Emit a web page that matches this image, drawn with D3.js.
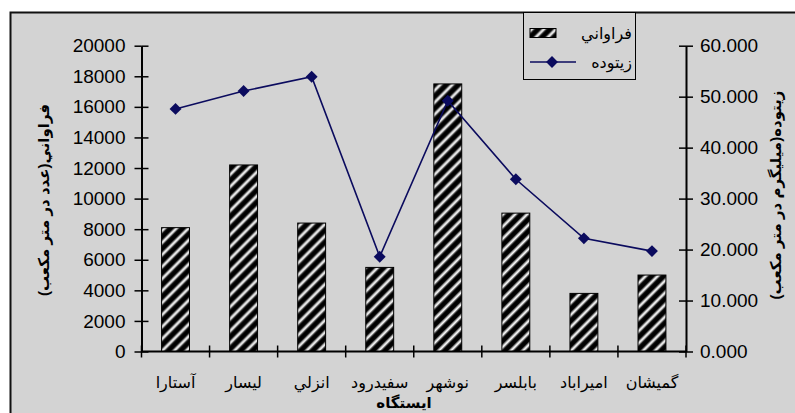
<!DOCTYPE html>
<html>
<head>
<meta charset="utf-8">
<script src="https://cdn.jsdelivr.net/npm/d3@7"></script>
<style>
  html, body { margin: 0; padding: 0; background: #ffffff; }
  svg { display: block; }
  text { font-family: Arial, "Liberation Sans", "DejaVu Sans", sans-serif; fill: #000; }
</style>
</head>
<body>
<svg id="chart" width="795" height="413"></svg>
<script>
// Stations, left to right
const stations = ["آستارا", "ليسار", "انزلي", "سفيدرود", "نوشهر", "بابلسر", "اميراباد", "گميشان"];
// Abundance (count per cubic metre) – bars, left axis
const abundance = [8100, 12200, 8400, 5500, 17500, 9050, 3800, 5000];
// Biomass (mg per cubic metre) – line, right axis
const biomass = [47.6, 51.1, 53.9, 18.6, 49.2, 33.8, 22.2, 19.7];
// Axis ticks
const leftTicks = [0, 2000, 4000, 6000, 8000, 10000, 12000, 14000, 16000, 18000, 20000];
const rightTicks = [0, 10, 20, 30, 40, 50, 60];
// Series names and axis titles
const barName = "فراواني";
const lineName = "زيتوده";
const leftTitle = "فراواني(عدد در متر مكعب)";
const rightTitle = "زيتوده(ميليگرم در متر مكعب)";
const xTitle = "ايستگاه";

const svg = d3.select("#chart");
const W = 795, H = 413;
const plot = { left: 141.5, right: 686, top: 45.7, bottom: 351.5 };
const lineColor = "#0b0b5e";

// Frame and background
svg.append("rect").attr("x", 0).attr("y", 0).attr("width", W).attr("height", H).attr("fill", "#ffffff");
svg.append("rect").attr("x", 10.5).attr("y", 12.5).attr("width", 820).attr("height", 440)
  .attr("fill", "#d3d3d3").attr("stroke", "#111").attr("stroke-width", 2);

// Diagonal stripe pattern for bars
const defs = svg.append("defs");
const grad = defs.append("linearGradient").attr("id", "stripeGrad")
  .attr("x1", "0").attr("x2", "1").attr("y1", "0").attr("y2", "0");
grad.append("stop").attr("offset", "0%").attr("stop-color", "#000");
grad.append("stop").attr("offset", "38%").attr("stop-color", "#000");
grad.append("stop").attr("offset", "64%").attr("stop-color", "#f4f4f4");
grad.append("stop").attr("offset", "72%").attr("stop-color", "#f4f4f4");
grad.append("stop").attr("offset", "92%").attr("stop-color", "#222");
grad.append("stop").attr("offset", "100%").attr("stop-color", "#000");
const pat = defs.append("pattern").attr("id", "stripes")
  .attr("patternUnits", "userSpaceOnUse").attr("width", 8.5).attr("height", 8.5)
  .attr("patternTransform", "rotate(45)");
pat.append("rect").attr("width", 8.5).attr("height", 8.5).attr("fill", "url(#stripeGrad)");

// Scales
const x = d3.scaleBand().domain(stations).range([plot.left, plot.right])
  .paddingInner(0.59).paddingOuter(0.295);
const step = x.step();
const yL = d3.scaleLinear().domain([0, 20000]).range([plot.bottom, plot.top]);
const yR = d3.scaleLinear().domain([0, 60]).range([plot.bottom, plot.top]);

// Bars
svg.append("g").selectAll("rect").data(stations).join("rect")
  .attr("x", d => x(d))
  .attr("y", (d, i) => yL(abundance[i]))
  .attr("width", x.bandwidth())
  .attr("height", (d, i) => yL(0) - yL(abundance[i]))
  .attr("fill", "url(#stripes)")
  .attr("stroke", "#000").attr("stroke-width", 1);

// Left axis
const axL = d3.axisLeft(yL).tickValues(leftTicks).tickFormat(d3.format("d"))
  .tickSizeInner(7).tickSizeOuter(0).tickPadding(12);
const gL = svg.append("g").attr("transform", `translate(${plot.left},0)`).call(axL);
gL.selectAll(".tick line").attr("x2", -7).clone().attr("x2", 7);
gL.selectAll(".tick line").attr("stroke", "#000").attr("stroke-width", 1.5);
gL.select(".domain").attr("stroke", "#000").attr("stroke-width", 2);
gL.selectAll("text").attr("font-size", 19).attr("fill", "#000").attr("x", -16);

// Right axis
const axR = d3.axisRight(yR).tickValues(rightTicks).tickFormat(d3.format(".3f"))
  .tickSizeInner(7).tickSizeOuter(0).tickPadding(12);
const gR = svg.append("g").attr("transform", `translate(${plot.right},0)`).call(axR);
gR.selectAll(".tick line").attr("x2", 7).clone().attr("x2", -7);
gR.selectAll(".tick line").attr("stroke", "#000").attr("stroke-width", 1.5);
gR.select(".domain").attr("stroke", "#000").attr("stroke-width", 2);
gR.selectAll("text").attr("font-size", 19).attr("fill", "#000").attr("x", 14);

// Bottom axis: baseline with crossing ticks at category boundaries
const gB = svg.append("g");
gB.append("line").attr("x1", plot.left).attr("x2", plot.right)
  .attr("y1", plot.bottom).attr("y2", plot.bottom)
  .attr("stroke", "#000").attr("stroke-width", 2);
const bounds = d3.range(stations.length + 1).map(i => plot.left + i * step);
gB.selectAll("line.tk").data(bounds).join("line").attr("class", "tk")
  .attr("x1", d => d).attr("x2", d => d)
  .attr("y1", plot.bottom - 6).attr("y2", plot.bottom + 6)
  .attr("stroke", "#000").attr("stroke-width", 1.5);
gB.selectAll("text").data(stations).join("text")
  .attr("x", d => x(d) + x.bandwidth() / 2)
  .attr("y", 388)
  .attr("text-anchor", "middle")
  .attr("font-size", 16)
  .text(d => d);

// Biomass line with diamond markers
const line = d3.line()
  .x((d, i) => x(stations[i]) + x.bandwidth() / 2)
  .y(d => yR(d));
svg.append("path").datum(biomass).attr("d", line)
  .attr("fill", "none").attr("stroke", lineColor).attr("stroke-width", 1.6);
const diamond = d3.symbol().type(d3.symbolDiamond2).size(90);
svg.append("g").selectAll("path").data(biomass).join("path")
  .attr("transform", (d, i) => `translate(${x(stations[i]) + x.bandwidth() / 2},${yR(d)})`)
  .attr("d", diamond)
  .attr("fill", lineColor);

// Axis titles
svg.append("text").attr("transform", "translate(49,200) rotate(-90)")
  .attr("text-anchor", "middle").attr("font-size", 15).attr("font-weight", "bold")
  .text(leftTitle);
svg.append("text").attr("transform", "translate(781,195) rotate(-90)")
  .attr("text-anchor", "middle").attr("font-size", 15).attr("font-weight", "bold")
  .text(rightTitle);
svg.append("text").attr("x", 404).attr("y", 408)
  .attr("text-anchor", "middle").attr("font-size", 15).attr("font-weight", "bold")
  .text(xTitle);

// Legend
const lg = svg.append("g");
lg.append("rect").attr("x", 523.5).attr("y", 12.5).attr("width", 112).attr("height", 67)
  .attr("fill", "#d3d3d3").attr("stroke", "#000").attr("stroke-width", 1);
lg.append("rect").attr("x", 530).attr("y", 28.5).attr("width", 26).attr("height", 9)
  .attr("fill", "url(#stripes)").attr("stroke", "#000").attr("stroke-width", 1);
lg.append("text").attr("x", 632).attr("y", 39).attr("text-anchor", "end")
  .attr("font-size", 16).text(barName);
lg.append("line").attr("x1", 530).attr("x2", 576).attr("y1", 62).attr("y2", 62)
  .attr("stroke", lineColor).attr("stroke-width", 1.6);
lg.append("path").attr("transform", "translate(552,62)").attr("d", diamond).attr("fill", lineColor);
lg.append("text").attr("x", 632).attr("y", 68).attr("text-anchor", "end")
  .attr("font-size", 16).text(lineName);
</script>
</body>
</html>
